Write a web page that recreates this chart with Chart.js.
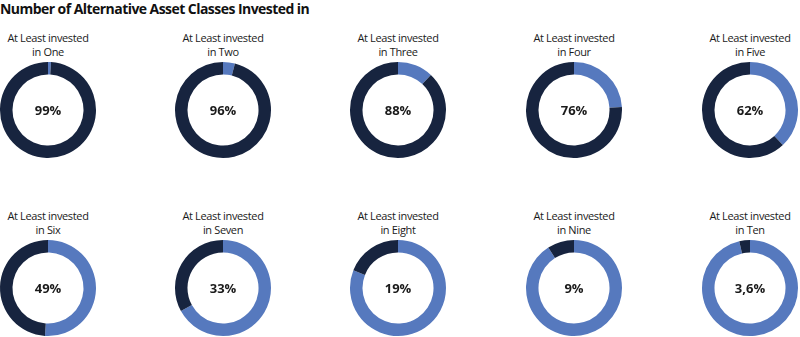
<!DOCTYPE html>
<html>
<head>
<meta charset="utf-8">
<script src="https://cdn.jsdelivr.net/npm/chart.js@4.4.1/dist/chart.umd.min.js"></script>
<style>
  body { margin: 0; background: #fff; font-family: "Open Sans", sans-serif; }
  #wrap { position: relative; width: 800px; height: 337px; overflow: hidden; }
  h1 { position: absolute; left: 0; top: -1px; margin: 0; font-size: 14px; font-weight: 700; color: #111; letter-spacing: -0.55px; white-space: nowrap; }
  .cell { position: absolute; width: 160px; }
  .cap { text-align: center; font-size: 11px; line-height: 14px; color: #1a1a1a; letter-spacing: -0.35px; padding-top: 1px; }
  .cell canvas { display: block; margin: 0 auto; }
</style>
</head>
<body>
<div id="wrap">
  <h1>Number of Alternative Asset Classes Invested in</h1>
</div>
<script>
const counts = ['One', 'Two', 'Three', 'Four', 'Five', 'Six', 'Seven', 'Eight', 'Nine', 'Ten'];
const invested = [99, 96, 88, 76, 62, 49, 33, 19, 9, 3.6];
const valueLabels = ['99%', '96%', '88%', '76%', '62%', '49%', '33%', '19%', '9%', '3,6%'];

const DARK = '#17243f';
const LIGHT = '#5679be';

const colX = [48, 223, 398, 574, 750];
const rowY = [111, 289];

// center percentage drawn inside the hole
const centerText = {
  id: 'centerText',
  afterDraw(chart, args, opts) {
    const { ctx } = chart;
    const meta = chart.getDatasetMeta(0).data[0];
    ctx.save();
    ctx.font = 'bold 13px "Open Sans", sans-serif';
    ctx.fillStyle = '#1a1a1a';
    ctx.textAlign = 'center';
    ctx.textBaseline = 'middle';
    ctx.fillText(opts.text, meta.x, meta.y + 1);
    ctx.restore();
  }
};

const wrap = document.getElementById('wrap');

invested.forEach((v, i) => {
  const cx = colX[i % 5];
  const cy = rowY[Math.floor(i / 5)];

  const cell = document.createElement('div');
  cell.className = 'cell';
  cell.style.left = (cx - 80) + 'px';
  cell.style.top = (cy - 81) + 'px';
  cell.innerHTML = '<div class="cap">At Least invested<br>in ' + counts[i] + '</div>';
  const canvas = document.createElement('canvas');
  canvas.width = 100;
  canvas.height = 100;
  canvas.style.width = '100px';
  canvas.style.height = '100px';
  canvas.style.marginTop = '1px';
  cell.appendChild(canvas);
  wrap.appendChild(cell);

  new Chart(canvas, {
    type: 'doughnut',
    data: {
      labels: ['Not invested', 'Invested'],
      datasets: [{
        data: [100 - v, v],
        backgroundColor: [LIGHT, DARK],
        borderWidth: 0
      }]
    },
    options: {
      responsive: false,
      animation: false,
      radius: 48,
      cutout: 37,
      layout: { padding: 0 },
      plugins: {
        legend: { display: false },
        tooltip: { enabled: false },
        centerText: { text: valueLabels[i] }
      }
    },
    plugins: [centerText]
  });
});
</script>
</body>
</html>
